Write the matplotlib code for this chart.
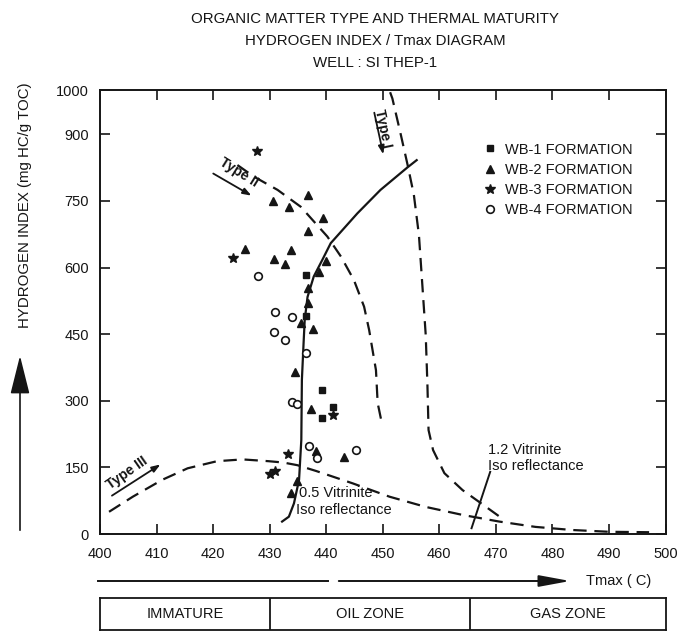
import matplotlib
matplotlib.use("Agg")
from matplotlib import pyplot as plt

plt.rcParams['font.family'] = ['Liberation Sans', 'DejaVu Sans']

INK = '#151515'
W, H = 681, 632

# data (Tmax in C, HI in mg HC/g TOC)
wb1_tmax = [436.5, 436.5, 439.2, 441.2, 439.2]
wb1_hi = [583, 492, 324, 287, 261]

wb2_tmax = [430.6, 433.5, 436.7, 439.5, 436.7, 425.7, 430.7, 433.8, 432.7, 439.9, 438.7,
            436.7, 436.8, 435.6, 437.6, 434.4, 437.4, 438.2, 443.1, 434.8, 433.8]
wb2_hi = [750, 736, 764, 712, 682, 642, 620, 639, 608, 614, 590,
          554, 521, 475, 462, 364, 282, 187, 173, 119, 92]

wb3_tmax = [427.7, 423.5, 441.2, 433.3, 430.1, 431.0]
wb3_hi = [863, 621, 269, 180, 135, 143]

wb4_tmax = [427.9, 430.9, 433.9, 430.8, 432.8, 436.5, 433.9, 434.8, 437.0, 438.4, 445.3]
wb4_hi = [580, 499, 489, 456, 437, 408, 297, 292, 198, 172, 190]

# kerogen type paths and iso-reflectance lines
type1_tmax = [451.3, 451.7, 453.2, 454.4, 455.5, 456.4, 457.0, 457.6, 457.9, 458.1, 458.9,
              460.9, 464.1, 467.4, 471.0]
type1_hi = [995, 981, 899, 831, 764, 673, 561, 448, 336, 234, 189, 137, 99, 69, 36]

type2_tmax = [424.3, 427.2, 431.4, 435.5, 440.2, 442.6, 444.9, 446.7, 447.6, 448.8, 449.1, 449.8]
type2_hi = [831, 805, 775, 737, 670, 625, 572, 512, 459, 369, 295, 252]

type3_tmax = [401.6, 405.8, 411.0, 415.5, 420.7, 425.2, 429.8, 432.4, 434.9, 438.2, 444.7,
              451.2, 457.6, 464.1, 470.6, 477.0, 483.5, 490.0, 497.1]
type3_hi = [50, 84, 122, 148, 164, 168, 164, 161, 155, 142, 114, 84, 61, 43, 28, 16, 9, 5, 4]

ro05_tmax = [432.2, 433.4, 434.3, 435.2, 435.6, 435.7, 436.0, 436.2, 436.7, 437.8, 439.3,
             440.8, 445.5, 449.6, 454.4, 456.0]
ro05_hi = [28, 39, 69, 122, 212, 347, 430, 482, 534, 580, 617, 655, 722, 775, 826, 842]

ro12_tmax = [469.0, 465.7]
ro12_hi = [140, 13]

x_ticks = list(range(400, 501, 10))
y_ticks = [0, 150, 300, 450, 600, 750, 900, 1000]

zone_edges = [400, 430, 465.5, 500]
zone_names = ['IMMATURE', 'OIL ZONE', 'GAS ZONE']

fig = plt.figure(figsize=(W / 100, H / 100), dpi=100)
fig.patch.set_facecolor('white')

def fx(px):
    return px / W

def fy(py):
    return 1 - py / H

ax = fig.add_axes([fx(100), fy(534), (665.5 - 100) / W, 444 / H])
ax.set_xlim(400, 500)
ax.set_ylim(0, 1000)
ax.set_xticks(x_ticks)
ax.set_yticks(y_ticks)
ax.tick_params(direction='in', top=True, right=True, length=7, width=1.2,
               color=INK, labelcolor=INK, labelsize=10.5)
ax.tick_params(axis='x', pad=9)
ax.tick_params(axis='y', pad=8)
for sp in ax.spines.values():
    sp.set_linewidth(1.4)
    sp.set_color(INK)

dash = (0, (6, 3.5))
ax.plot(type1_tmax, type1_hi, color=INK, lw=1.6, ls=dash)
ax.plot(type2_tmax, type2_hi, color=INK, lw=1.6, ls=dash)
ax.plot(type3_tmax, type3_hi, color=INK, lw=1.6, ls=dash)
ax.plot(ro05_tmax, ro05_hi, color=INK, lw=1.6)
ax.plot(ro12_tmax, ro12_hi, color=INK, lw=1.4)

ax.plot(wb1_tmax, wb1_hi, 's', ms=5, color=INK, label='WB-1 FORMATION')
ax.plot(wb2_tmax, wb2_hi, '^', ms=6, color=INK, label='WB-2 FORMATION')
ax.plot(wb3_tmax, wb3_hi, '*', ms=7, color=INK, label='WB-3 FORMATION')
ax.plot(wb4_tmax, wb4_hi, 'o', ms=5.5, mfc='white', mec=INK, mew=1.2, label='WB-4 FORMATION')

leg = ax.legend(loc='upper left', bbox_to_anchor=(0.664, 0.898), frameon=False,
                borderpad=0, handlelength=1.0, handletextpad=0.5, labelspacing=0.42,
                fontsize=10.5, numpoints=1)
for t in leg.get_texts():
    t.set_color(INK)

# type labels with underline arrows
arrow = dict(arrowstyle='-|>,head_length=0.5,head_width=0.18', color=INK, lw=1.3)
ax.annotate('', xy=(427.2, 759), xytext=(419.6, 815), arrowprops=arrow)
ax.text(424.6, 814, 'Type II', rotation=-32, fontsize=10, ha='center', va='center',
        color=INK, fontweight='bold')
ax.annotate('', xy=(450.2, 849), xytext=(448.4, 955), arrowprops=arrow)
ax.text(450.0, 912, 'Type I', rotation=-78, fontsize=10, ha='center', va='center',
        color=INK, fontweight='bold')
ax.annotate('', xy=(411.1, 160), xytext=(401.7, 83), arrowprops=arrow)
ax.text(404.7, 138, 'Type III', rotation=35, fontsize=10, ha='center', va='center',
        color=INK, fontweight='bold')

ax.text(435.2, 92, '0.5 Vitrinite', fontsize=10.5, ha='left', va='center', color=INK)
ax.text(434.6, 54, 'Iso reflectance', fontsize=10.5, ha='left', va='center', color=INK)
ax.text(468.6, 189, '1.2 Vitrinite', fontsize=10.5, ha='left', va='center', color=INK)
ax.text(468.6, 153, 'Iso reflectance', fontsize=10.5, ha='left', va='center', color=INK)

# titles and axis captions
fig.text(fx(375), fy(19), 'ORGANIC MATTER TYPE AND THERMAL MATURITY', ha='center', va='center',
         fontsize=10.8, color=INK)
fig.text(fx(375), fy(41), 'HYDROGEN INDEX / Tmax DIAGRAM', ha='center', va='center',
         fontsize=10.8, color=INK)
fig.text(fx(375), fy(63), 'WELL : SI THEP-1', ha='center', va='center',
         fontsize=10.8, color=INK)
fig.text(fx(25), fy(205), 'HYDROGEN INDEX (mg HC/g TOC)', rotation=90, ha='center',
         va='center', fontsize=10.8, color=INK)
fig.text(fx(586), fy(581), 'Tmax ( C)', ha='left', va='center', fontsize=10.5, color=INK)

# decoration layer in pixel coordinates
deco = fig.add_axes([0, 0, 1, 1])
deco.set_xlim(0, W)
deco.set_ylim(H, 0)
deco.axis('off')
deco.annotate('', xy=(20, 353), xytext=(20, 533),
              arrowprops=dict(arrowstyle='-|>,head_length=2.4,head_width=0.6', color=INK, lw=1.2))
deco.plot([98, 327.5], [581, 581], color=INK, lw=1.4)
deco.annotate('', xy=(573, 581), xytext=(336, 581),
              arrowprops=dict(arrowstyle='-|>,head_length=1.9,head_width=0.35', color=INK, lw=1.4))

# maturity zone strip
zax = fig.add_axes([fx(100), fy(630), (665.5 - 100) / W, 32 / H])
zax.set_xlim(400, 500)
zax.set_ylim(0, 1)
zax.set_xticks([])
zax.set_yticks([])
for sp in zax.spines.values():
    sp.set_linewidth(1.3)
    sp.set_color(INK)
for edge in zone_edges[1:-1]:
    zax.axvline(edge, color=INK, lw=1.3)
for i, name in enumerate(zone_names):
    zax.text((zone_edges[i] + zone_edges[i + 1]) / 2, 0.5, name, ha='center', va='center',
             fontsize=10.5, color=INK)

fig.savefig('out.png', dpi=100, facecolor='white')
